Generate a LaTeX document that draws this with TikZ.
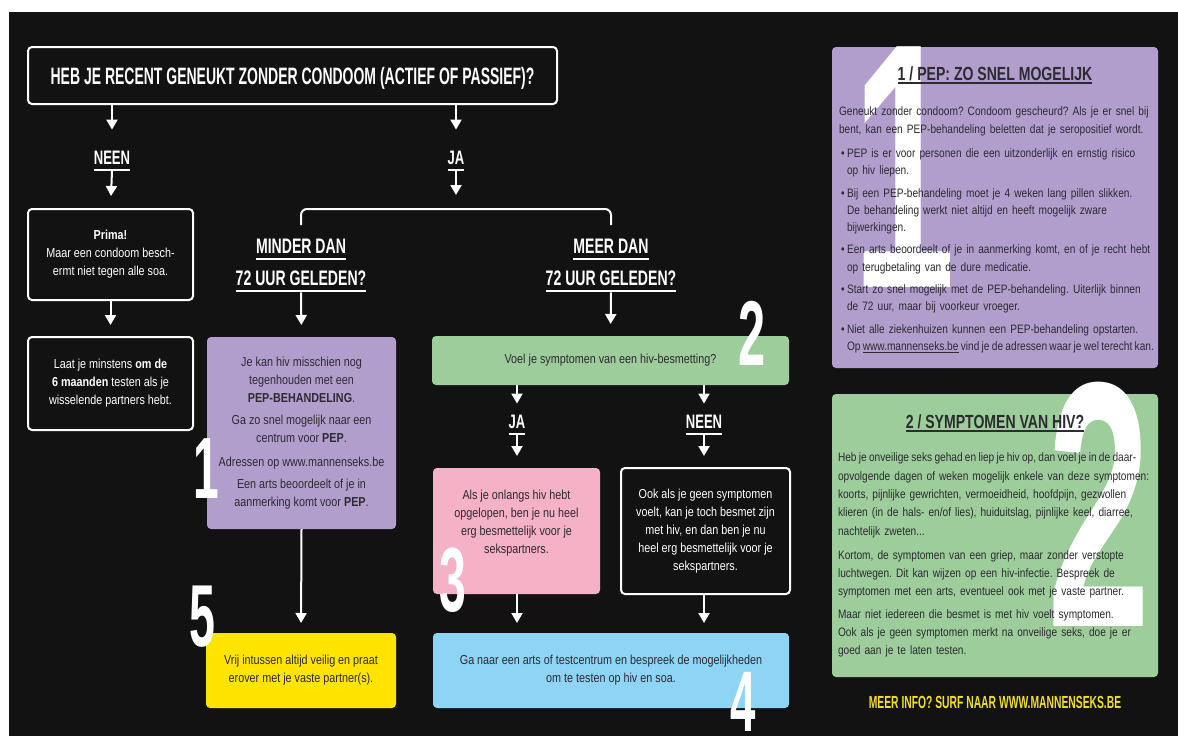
\documentclass[tikz,border=0pt]{standalone}
\usepackage{fontspec}
\setmainfont[FakeStretch=0.83]{Liberation Sans}
\newfontfamily\titlefont[FakeStretch=0.59]{Liberation Sans}
\newfontfamily\headfont[FakeStretch=0.67]{Liberation Sans}
\newfontfamily\panelfont[FakeStretch=0.74]{Liberation Sans}
\newfontfamily\numfont[FakeStretch=0.53]{Liberation Sans}
\usetikzlibrary{arrows.meta,positioning}

\definecolor{bgblack}{RGB}{18,18,18}
\definecolor{peplila}{RGB}{177,158,205}
\definecolor{symgreen}{RGB}{156,205,154}
\definecolor{infpink}{RGB}{245,177,197}
\definecolor{safeyellow}{RGB}{255,228,0}
\definecolor{testblue}{RGB}{142,212,245}
\definecolor{inktext}{RGB}{45,42,50}
\definecolor{infoyellow}{RGB}{240,222,40}

\newcommand{\uln}[2][7pt]{\setbox0=\hbox{#2}\rlap{\rule[-#1]{\wd0}{2.2pt}}\box0}
\newcommand{\lnbr}{\hfil\break}
\newcommand{\pitem}[1][5pt]{\par\vskip#1\hangindent=8pt\hangafter=1\noindent\hbox to 8pt{\hskip2pt\textbullet\hfil}}
\newcommand{\tight}[1]{{\spaceskip=0.19em\relax#1}}
\frenchspacing

\begin{document}
\begin{tikzpicture}
  [x=1pt, y=-1pt,
  every node/.style={inner sep=0pt, outer sep=0pt},
  flow box/.style={draw=white, line width=2pt, rounded corners=4pt, fill=bgblack, text=white, align=center, font=\fontsize{13}{18}\selectfont},
  color box/.style={fill=#1, rounded corners=4pt, text=inktext, align=center, font=\fontsize{13}{18}\selectfont},
  box text/.style={text=inktext, align=center, font=\fontsize{13}{18}\selectfont},
  head label/.style={text=white, align=center, font=\headfont\bfseries\fontsize{#1}{32}\selectfont},
  head label/.default=21,
  big digit/.style={text=white, font=\numfont\bfseries\fontsize{#1}{#1}\selectfont},
  flow arrow/.style={draw=white, line width=2pt, -{Triangle[width=11pt,length=10pt]}},
  flow line/.style={draw=white, line width=2pt, rounded corners=6pt},
  panel/.style={fill=#1, rounded corners=4pt},
  panel head/.style={text=inktext, font=\panelfont\bfseries\fontsize{19}{22}\selectfont},
  panel body/.style={text=inktext, text width=345pt, align=left, font=\fontsize{12.2}{17.3}\selectfont}
  ]

  \useasboundingbox (0,0) rectangle (1178,736);
  \fill[white] (0,0) rectangle (1178,736);
  \fill[bgblack] (9,12) rectangle (1178,736);

  % flow chart
  \node[flow box, minimum width=529pt, minimum height=57pt, text depth=0pt,
    font=\titlefont\bfseries\fontsize{23.7}{28}\selectfont] (q1) at (292.5,75.5)
    {HEB JE RECENT GENEUKT ZONDER CONDOOM (ACTIEF OF PASSIEF)?};

  \node[head label=19.5, anchor=base] (neen1) at (112,164) {\uln{NEEN}};
  \node[head label=19.5, anchor=base] (ja1) at (456,164) {\uln{JA}};

  \node[flow box, minimum width=165pt, minimum height=91pt] (ok) at (110.5,254.5)
    {\textbf{Prima!}\\Maar een condoom besch-\\ermt niet tegen alle soa.};
  \node[flow box, minimum width=165pt, minimum height=93pt] (test) at (110.5,383.5)
    {Laat je minstens \textbf{om de}\\\textbf{6 maanden} testen als je\\wisselende partners hebt.};

  \coordinate (split) at (456,209);
  \node[head label, anchor=north] (lt) at (301,239) {\uln{MINDER DAN}\\\uln{72 UUR GELEDEN?}};
  \node[head label, anchor=north] (gt) at (611,239) {\uln{MEER DAN}\\\uln{72 UUR GELEDEN?}};

  \node[color box=peplila, minimum width=189pt, minimum height=192pt] (pep) at (301.5,433)
    {Je kan hiv misschien nog\\tegenhouden met een\\\textbf{PEP-BEHANDELING}.\\[4pt]
     Ga zo snel mogelijk naar een\\centrum voor \textbf{PEP}.\\[6pt]
     Adressen op www.mannenseks.be\\[4pt]
     Een arts beoordeelt of je in\\aanmerking komt voor \textbf{PEP}.};
  \node[color box=safeyellow, minimum width=190pt, minimum height=75pt] (safe) at (301,670.5)
    {Vrij intussen altijd veilig en praat\\erover met je vaste partner(s).};

  \node[color box=symgreen, minimum width=357pt, minimum height=49pt] (sym) at (610.5,360.5)
    {Voel je symptomen van een hiv-besmetting?};
  \node[head label=19.5, anchor=base] (ja2) at (517,428) {\uln{JA}};
  \node[head label=19.5, anchor=base] (neen2) at (704,428) {\uln{NEEN}};

  \node[color box=infpink, minimum width=167pt, minimum height=126pt] (inf) at (516.5,531) {};
  \node[box text, anchor=north] (inftext) at ([yshift=-22pt]inf.north)
    {Als je onlangs hiv hebt\\opgelopen, ben je nu heel\\erg besmettelijk voor je\\sekspartners.};
  \node[flow box, minimum width=169pt, minimum height=126pt] (noinf) at (705.5,531)
    {Ook als je geen symptomen\\voelt, kan je toch besmet zijn\\met hiv, en dan ben je nu\\heel erg besmettelijk voor je\\sekspartners.};
  \node[color box=testblue, minimum width=356pt, minimum height=75pt] (tst) at (611,670.5)
    {Ga naar een arts of testcentrum en bespreek de mogelijkheden\\om te testen op hiv en soa.};

  \node[big digit=87] (num1) at (206,469) {1};
  \node[big digit=92] (num2) at (752,333) {2};
  \node[big digit=91] (num3) at (453,580) {3};
  \node[big digit=86] (num4) at (743,702) {4};
  \node[big digit=88] (num5) at (202,617) {5};

  \draw[flow arrow, shorten >=21pt] (q1.south -| neen1) -- (neen1.north);
  \draw[flow arrow, shorten >=13pt] (neen1.south) -- (ok.north);
  \draw[flow arrow, shorten >=12pt] (ok.south) -- (test.north);
  \draw[flow arrow, shorten >=21pt] (q1.south -| ja1) -- (ja1.north);
  \draw[flow arrow, shorten >=14pt] (ja1.south) -- (split);
  \draw[flow line] ([yshift=14pt]lt.north) |- (split) -| ([yshift=14pt]gt.north);
  \draw[flow arrow, shorten >=12pt] (lt.south) -- (pep.north);
  \draw[flow arrow, shorten >=10pt] (pep.south) -- (safe.north);
  \draw[flow arrow, shorten >=12pt] (gt.south) -- (sym.north);
  \draw[flow arrow, shorten >=11pt] (sym.south -| ja2) -- (ja2.north);
  \draw[flow arrow, shorten >=11pt] (sym.south -| neen2) -- (neen2.north);
  \draw[flow arrow, shorten >=12pt] (ja2.south) -- (inf.north -| ja2);
  \draw[flow arrow, shorten >=12pt] (neen2.south) -- (noinf.north -| neen2);
  \draw[flow arrow, shorten >=10pt] (inf.south -| ja2) -- (tst.north -| ja2);
  \draw[flow arrow, shorten >=10pt] (noinf.south -| neen2) -- (tst.north -| neen2);

  % info panels
  \node[panel=peplila, minimum width=326pt, minimum height=321pt] (pnl1) at (995,207.5) {};
  \node[big digit=350, anchor=north] (big1) at (904,47) {1};
  \node[panel head, anchor=base] (pnl1head) at (995,80) {\uln[4.2pt]{1 / PEP: ZO SNEL MOGELIJK}};
  \node[panel body, anchor=north west] (pnl1text) at (839,107)
    {Geneukt zonder condoom? Condoom gescheurd? Als je er snel bij\lnbr
     bent, kan een PEP-behandeling beletten dat je seropositief wordt.
     \pitem[7pt]PEP is er voor personen die een uitzonderlijk en ernstig risico\lnbr
     op hiv liepen.
     \pitem Bij een PEP-behandeling moet je 4 weken lang pillen slikken.\lnbr
     De behandeling werkt niet altijd en heeft mogelijk zware\lnbr
     bijwerkingen.
     \pitem Een arts beoordeelt of je in aanmerking komt, en of je recht hebt\lnbr
     op terugbetaling van de dure medicatie.
     \pitem Start zo snel mogelijk met de PEP-behandeling. Uiterlijk binnen\lnbr
     de 72 uur, maar bij voorkeur vroeger.
     \pitem Niet alle ziekenhuizen kunnen een PEP-behandeling opstarten.\lnbr
     \tight{Op \underline{www.mannenseks.be} vind je de adressen waar je wel terecht kan.}\par};

  \node[panel=symgreen, minimum width=326pt, minimum height=283pt] (pnl2) at (995,535.5) {};
  \node[big digit=350, anchor=north] (big2) at (1099,382) {2};
  \node[panel head, anchor=base] (pnl2head) at (995,428) {\uln[4.2pt]{2 / SYMPTOMEN VAN HIV?}};
  \node[panel body, anchor=north west, font=\fontsize{12.2}{18.3}\selectfont] (pnl2text) at (838,453)
    {\tight{Heb je onveilige seks gehad en liep je hiv op, dan voel je in de daar-}\lnbr
     opvolgende dagen of weken mogelijk enkele van deze symptomen:\lnbr
     koorts, pijnlijke gewrichten, vermoeidheid, hoofdpijn, gezwollen\lnbr
     klieren (in de hals- en/of lies), huiduitslag, pijnlijke keel, diarree,\lnbr
     nachtelijk zweten...
     \par\vskip6pt\noindent
     Kortom, de symptomen van een griep, maar zonder verstopte\lnbr
     luchtwegen. Dit kan wijzen op een hiv-infectie. Bespreek de\lnbr
     symptomen met een arts, eventueel ook met je vaste partner.
     \par\vskip4pt\noindent
     Maar niet iedereen die besmet is met hiv voelt symptomen.\lnbr
     Ook als je geen symptomen merkt na onveilige seks, doe je er\lnbr
     goed aan je te laten testen.\par};

  \node[anchor=base, text=infoyellow, font=\titlefont\bfseries\fontsize{17.5}{20}\selectfont] (info) at (995,708)
    {MEER INFO? SURF NAAR WWW.MANNENSEKS.BE};
\end{tikzpicture}
\end{document}
